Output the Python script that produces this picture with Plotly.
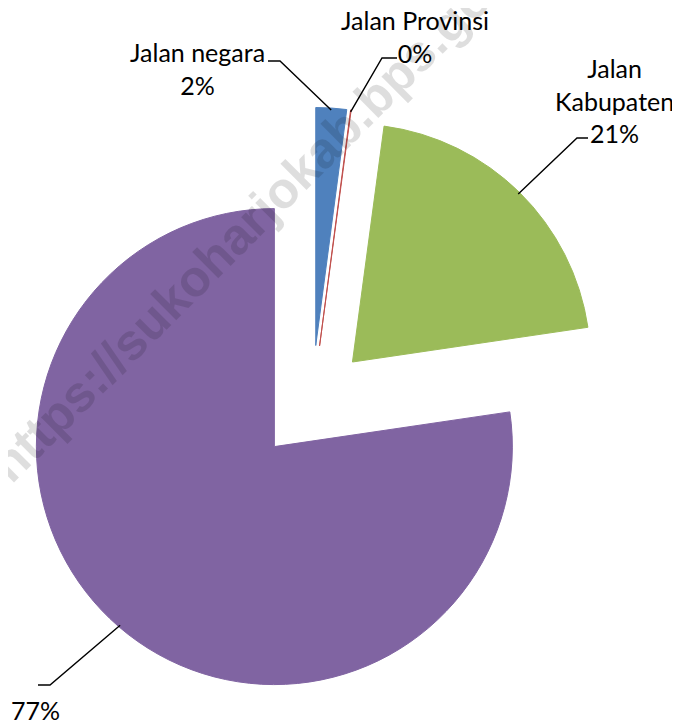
import math
import plotly.graph_objects as go

# ---- data ----
categories = ["Jalan negara", "Jalan Provinsi", "Jalan Kabupaten", ""]
label_lines = ["Jalan negara", "Jalan Provinsi", "Jalan<br>Kabupaten", ""]
shares = [2.08, 0.04, 20.55, 77.33]          # percent of total road length
colors = ["#4F81BD", "#C0504D", "#9BBB59", "#8064A2"]

# ---- layout parameters ----
W, H = 680, 724
OFF = 8                    # page body margin of the html page
CX, CY = 312, 403          # pie centre in window pixels
R = 238                    # pie radius in pixels
PULL = 0.242               # explosion as fraction of radius
FONT = "Lato"
FS = 25

# label placement (window pixel positions of text block centre, leader elbow, leader end)
label_pos = [(197, 69), (415, 36), (614, 100), (35, 710)]
elbows = [(280, 61), (382, 58), (577, 138), (50, 685)]
ends = [(268, 61), (397, 58), (588, 138), (38, 685)]

def px(x):
    return (x - OFF) / W

def py(y):
    return 1 - (y - OFF) / H

S = 2 * R * (1 + PULL)
dom_x = [px(CX - S / 2), px(CX + S / 2)]
dom_y = [py(CY + S / 2), py(CY - S / 2)]

fig = go.Figure(go.Pie(
    labels=categories,
    values=shares,
    sort=False,
    direction="clockwise",
    rotation=0,
    pull=[PULL] * len(shares),
    marker=dict(colors=colors, line=dict(color=colors, width=1)),
    textinfo="none",
    hoverinfo="label+percent",
    domain=dict(x=dom_x, y=dom_y),
    showlegend=False,
))

total = sum(shares)
cum = 0.0
shapes = []
annotations = []
for i, v in enumerate(shares):
    mid = (cum + v / 2) / total * 2 * math.pi
    cum += v
    dist = R * PULL + R - 2
    sx = CX + dist * math.sin(mid)
    sy = CY - dist * math.cos(mid)
    ex, ey = elbows[i]
    hx, hy = ends[i]
    shapes.append(dict(type="path", xref="paper", yref="paper",
                       path=f"M {px(sx)} {py(sy)} L {px(ex)} {py(ey)} L {px(hx)} {py(hy)}",
                       line=dict(color="black", width=1.4)))
    pct = int(math.floor(v / total * 100 + 0.5))
    txt = (label_lines[i] + "<br>" if label_lines[i] else "") + f"{pct}%"
    lx, ly = label_pos[i]
    annotations.append(dict(x=px(lx), y=py(ly), xref="paper", yref="paper",
                            text=txt, showarrow=False, xanchor="center", yanchor="middle",
                            align="center", font=dict(family=FONT, size=FS, color="black")))

# watermark
annotations.append(dict(x=px(261), y=py(210), xref="paper", yref="paper",
                        text="https://sukoharjokab.bps.go.id", showarrow=False,
                        textangle=-45, xanchor="center", yanchor="middle",
                        font=dict(family="Liberation Sans", size=51, weight="bold",
                                  color="rgba(0,0,0,0.13)")))

fig.update_layout(
    width=W, height=H,
    margin=dict(l=0, r=0, t=0, b=0),
    paper_bgcolor="white",
    plot_bgcolor="white",
    shapes=shapes,
    annotations=annotations,
)

fig.write_html("out.html")
